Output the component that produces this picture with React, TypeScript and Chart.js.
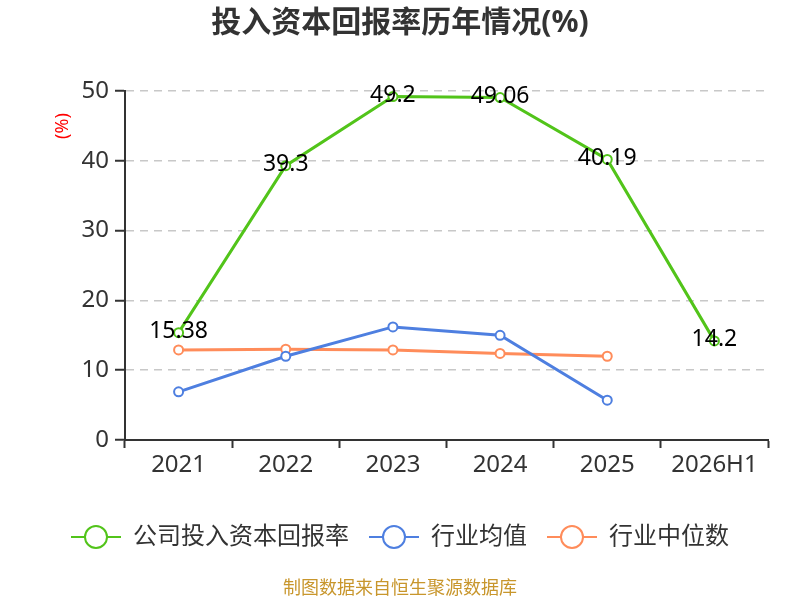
import React, { useEffect, useRef } from "react";
import { Chart, registerables } from "chart.js";

Chart.register(...registerables);

const categories = ["2021", "2022", "2023", "2024", "2025", "2026H1"];
const companyValues = [15.38, 39.3, 49.2, 49.06, 40.19, 14.2];
const industryAvg = [6.9, 12.0, 16.2, 15.0, 5.7, null];
const industryMedian = [12.9, 13.0, 12.9, 12.4, 12.0, null];
const seriesNames = ["公司投入资本回报率", "行业均值", "行业中位数"];
const colors = ["#52c41a", "#4e7fe0", "#ff8c5a"];
const yTicks = [0, 10, 20, 30, 40, 50];
const titleText = "投入资本回报率历年情况(%)";
const footerText = "制图数据来自恒生聚源数据库";
const yUnit = "(%)";

const FONT = '"Noto Sans", "Noto Sans CJK SC", sans-serif';

const decorPlugin = {
  id: "decor",
  afterDatasetsDraw(chart: any) {
    const ctx = chart.ctx;
    const meta = chart.getDatasetMeta(0);
    ctx.save();
    ctx.font = `23px ${FONT}`;
    ctx.fillStyle = "#000";
    ctx.textAlign = "center";
    ctx.textBaseline = "middle";
    meta.data.forEach((pt: any, i: number) => {
      const v = companyValues[i];
      if (v == null) return;
      ctx.fillText(String(v), pt.x, pt.y - 1);
    });
    ctx.restore();
  },
  afterDraw(chart: any) {
    const ctx = chart.ctx;
    ctx.save();
    // title
    ctx.font = `bold 30px ${FONT}`;
    ctx.fillStyle = "#333";
    ctx.textAlign = "center";
    ctx.textBaseline = "middle";
    ctx.fillText(titleText, 400, 23);
    // y unit
    ctx.save();
    ctx.translate(63, 126);
    ctx.rotate(-Math.PI / 2);
    ctx.font = `18px ${FONT}`;
    ctx.fillStyle = "#f00";
    ctx.fillText(yUnit, 0, 0);
    ctx.restore();
    // legend
    ctx.font = `24px ${FONT}`;
    const y = 537;
    const items = seriesNames.map((n, i) => ({ n, c: colors[i], w: ctx.measureText(n).width }));
    const symW = 50;
    const gap = 12;
    const itemGap = 20;
    let total = 0;
    items.forEach((it, i) => {
      total += symW + gap + it.w + (i < items.length - 1 ? itemGap : 0);
    });
    let x = 400 - total / 2;
    items.forEach((it) => {
      ctx.strokeStyle = it.c;
      ctx.lineWidth = 2;
      ctx.beginPath();
      ctx.moveTo(x, y);
      ctx.lineTo(x + symW, y);
      ctx.stroke();
      ctx.beginPath();
      ctx.arc(x + symW / 2, y, 11, 0, Math.PI * 2);
      ctx.fillStyle = "#fff";
      ctx.fill();
      ctx.stroke();
      ctx.fillStyle = "#333";
      ctx.textAlign = "left";
      ctx.textBaseline = "middle";
      ctx.fillText(it.n, x + symW + gap, y);
      x += symW + gap + it.w + itemGap;
    });
    // footer
    ctx.font = `18px ${FONT}`;
    ctx.fillStyle = "#c8962c";
    ctx.textAlign = "center";
    ctx.fillText(footerText, 400, 589);
    ctx.restore();
  },
};

export default function App() {
  const ref = useRef<HTMLCanvasElement | null>(null);
  useEffect(() => {
    if (!ref.current) return;
    const mk = (label: string, data: any[], color: string) => ({
      label,
      data,
      borderColor: color,
      backgroundColor: "#fff",
      pointBackgroundColor: "#fff",
      pointBorderColor: color,
      pointBorderWidth: 2,
      pointRadius: 4.5,
      borderWidth: 3,
      tension: 0,
      spanGaps: false,
    });
    const chart = new Chart(ref.current, {
      type: "line",
      data: {
        labels: categories,
        datasets: [
          mk(seriesNames[0], companyValues, colors[0]),
          mk(seriesNames[1], industryAvg, colors[1]),
          mk(seriesNames[2], industryMedian, colors[2]),
        ],
      },
      options: {
        animation: false,
        responsive: false,
        devicePixelRatio: 1,
        layout: { padding: { top: 91, right: 32, left: 10, bottom: 0 } },
        plugins: {
          legend: { display: false },
          title: { display: false },
          tooltip: { enabled: false },
        },
        scales: {
          x: {
            offset: true,
            grid: {
              display: true,
              drawOnChartArea: false,
              drawTicks: true,
              tickLength: 8,
              tickColor: "#333",
              tickWidth: 2,
              offset: true,
            },
            border: { display: true, color: "#333", width: 2 },
            ticks: { color: "#333", font: { size: 24, family: FONT }, padding: 3, maxRotation: 0 },
            afterFit(scale: any) {
              scale.height = 160;
            },
          },
          y: {
            min: 0,
            max: 50,
            afterBuildTicks(scale: any) {
              scale.ticks = yTicks.map((v) => ({ value: v }));
            },
            grid: {
              color: "#c8c8c8",
              lineWidth: 1.5,
              drawTicks: true,
              tickLength: 10,
              tickColor: "#333",
              tickWidth: 2,
              tickBorderDash: [],
            } as any,
            border: { display: true, color: "#333", width: 2, dash: [8, 6] },
            ticks: { color: "#333", font: { size: 24, family: FONT }, padding: 6 },
            afterFit(scale: any) {
              scale.width = 115;
            },
          },
        },
      },
      plugins: [decorPlugin],
    } as any);
    return () => chart.destroy();
  }, []);
  return (
    <div style={{ position: "fixed", left: 0, top: 0, width: 800, height: 600, background: "#fff" }}>
      <canvas ref={ref} width={800} height={600} style={{ width: 800, height: 600 }} />
    </div>
  );
}
